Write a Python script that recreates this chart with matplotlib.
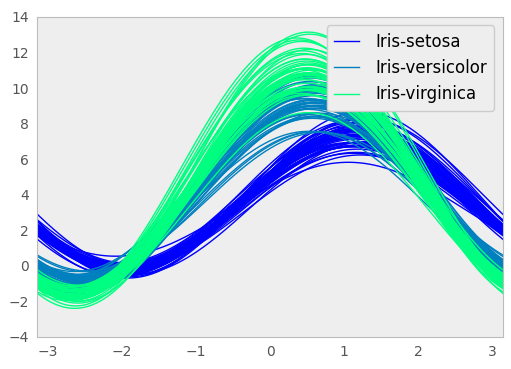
import numpy as np
import matplotlib
matplotlib.use('Agg')
import matplotlib.pyplot as plt

# iris measurements: sepal length, sepal width, petal length, petal width
setosa = [
    [5.1, 3.5, 1.4, 0.2], [4.9, 3.0, 1.4, 0.2], [4.7, 3.2, 1.3, 0.2], [4.6, 3.1, 1.5, 0.2],
    [5.0, 3.6, 1.4, 0.2], [5.4, 3.9, 1.7, 0.4], [4.6, 3.4, 1.4, 0.3], [5.0, 3.4, 1.5, 0.2],
    [4.4, 2.9, 1.4, 0.2], [4.9, 3.1, 1.5, 0.1], [5.4, 3.7, 1.5, 0.2], [4.8, 3.4, 1.6, 0.2],
    [4.8, 3.0, 1.4, 0.1], [4.3, 3.0, 1.1, 0.1], [5.8, 4.0, 1.2, 0.2], [5.7, 4.4, 1.5, 0.4],
    [5.4, 3.9, 1.3, 0.4], [5.1, 3.5, 1.4, 0.3], [5.7, 3.8, 1.7, 0.3], [5.1, 3.8, 1.5, 0.3],
    [5.4, 3.4, 1.7, 0.2], [5.1, 3.7, 1.5, 0.4], [4.6, 3.6, 1.0, 0.2], [5.1, 3.3, 1.7, 0.5],
    [4.8, 3.4, 1.9, 0.2], [5.0, 3.0, 1.6, 0.2], [5.0, 3.4, 1.6, 0.4], [5.2, 3.5, 1.5, 0.2],
    [5.2, 3.4, 1.4, 0.2], [4.7, 3.2, 1.6, 0.2], [4.8, 3.1, 1.6, 0.2], [5.4, 3.4, 1.5, 0.4],
    [5.2, 4.1, 1.5, 0.1], [5.5, 4.2, 1.4, 0.2], [4.9, 3.1, 1.5, 0.1], [5.0, 3.2, 1.2, 0.2],
    [5.5, 3.5, 1.3, 0.2], [4.9, 3.1, 1.5, 0.1], [4.4, 3.0, 1.3, 0.2], [5.1, 3.4, 1.5, 0.2],
    [5.0, 3.5, 1.3, 0.3], [4.5, 2.3, 1.3, 0.3], [4.4, 3.2, 1.3, 0.2], [5.0, 3.5, 1.6, 0.6],
    [5.1, 3.8, 1.9, 0.4], [4.8, 3.0, 1.4, 0.3], [5.1, 3.8, 1.6, 0.2], [4.6, 3.2, 1.4, 0.2],
    [5.3, 3.7, 1.5, 0.2], [5.0, 3.3, 1.4, 0.2],
]
versicolor = [
    [7.0, 3.2, 4.7, 1.4], [6.4, 3.2, 4.5, 1.5], [6.9, 3.1, 4.9, 1.5], [5.5, 2.3, 4.0, 1.3],
    [6.5, 2.8, 4.6, 1.5], [5.7, 2.8, 4.5, 1.3], [6.3, 3.3, 4.7, 1.6], [4.9, 2.4, 3.3, 1.0],
    [6.6, 2.9, 4.6, 1.3], [5.2, 2.7, 3.9, 1.4], [5.0, 2.0, 3.5, 1.0], [5.9, 3.0, 4.2, 1.5],
    [6.0, 2.2, 4.0, 1.0], [6.1, 2.9, 4.7, 1.4], [5.6, 2.9, 3.6, 1.3], [6.7, 3.1, 4.4, 1.4],
    [5.6, 3.0, 4.5, 1.5], [5.8, 2.7, 4.1, 1.0], [6.2, 2.2, 4.5, 1.5], [5.6, 2.5, 3.9, 1.1],
    [5.9, 3.2, 4.8, 1.8], [6.1, 2.8, 4.0, 1.3], [6.3, 2.5, 4.9, 1.5], [6.1, 2.8, 4.7, 1.2],
    [6.4, 2.9, 4.3, 1.3], [6.6, 3.0, 4.4, 1.4], [6.8, 2.8, 4.8, 1.4], [6.7, 3.0, 5.0, 1.7],
    [6.0, 2.9, 4.5, 1.5], [5.7, 2.6, 3.5, 1.0], [5.5, 2.4, 3.8, 1.1], [5.5, 2.4, 3.7, 1.0],
    [5.8, 2.7, 3.9, 1.2], [6.0, 2.7, 5.1, 1.6], [5.4, 3.0, 4.5, 1.5], [6.0, 3.4, 4.5, 1.6],
    [6.7, 3.1, 4.7, 1.5], [6.3, 2.3, 4.4, 1.3], [5.6, 3.0, 4.1, 1.3], [5.5, 2.5, 4.0, 1.3],
    [5.5, 2.6, 4.4, 1.2], [6.1, 3.0, 4.6, 1.4], [5.8, 2.6, 4.0, 1.2], [5.0, 2.3, 3.3, 1.0],
    [5.6, 2.7, 4.2, 1.3], [5.7, 3.0, 4.2, 1.2], [5.7, 2.9, 4.2, 1.3], [6.2, 2.9, 4.3, 1.3],
    [5.1, 2.5, 3.0, 1.1], [5.7, 2.8, 4.1, 1.3],
]
virginica = [
    [6.3, 3.3, 6.0, 2.5], [5.8, 2.7, 5.1, 1.9], [7.1, 3.0, 5.9, 2.1], [6.3, 2.9, 5.6, 1.8],
    [6.5, 3.0, 5.8, 2.2], [7.6, 3.0, 6.6, 2.1], [4.9, 2.5, 4.5, 1.7], [7.3, 2.9, 6.3, 1.8],
    [6.7, 2.5, 5.8, 1.8], [7.2, 3.6, 6.1, 2.5], [6.5, 3.2, 5.1, 2.0], [6.4, 2.7, 5.3, 1.9],
    [6.8, 3.0, 5.5, 2.1], [5.7, 2.5, 5.0, 2.0], [5.8, 2.8, 5.1, 2.4], [6.4, 3.2, 5.3, 2.3],
    [6.5, 3.0, 5.5, 1.8], [7.7, 3.8, 6.7, 2.2], [7.7, 2.6, 6.9, 2.3], [6.0, 2.2, 5.0, 1.5],
    [6.9, 3.2, 5.7, 2.3], [5.6, 2.8, 4.9, 2.0], [7.7, 2.8, 6.7, 2.0], [6.3, 2.7, 4.9, 1.8],
    [6.7, 3.3, 5.7, 2.1], [7.2, 3.2, 6.0, 1.8], [6.2, 2.8, 4.8, 1.8], [6.1, 3.0, 4.9, 1.8],
    [6.4, 2.8, 5.6, 2.1], [7.2, 3.0, 5.8, 1.6], [7.4, 2.8, 6.1, 1.9], [7.9, 3.8, 6.4, 2.0],
    [6.4, 2.8, 5.6, 2.2], [6.3, 2.8, 5.1, 1.5], [6.1, 2.6, 5.6, 1.4], [7.7, 3.0, 6.1, 2.3],
    [6.3, 3.4, 5.6, 2.4], [6.4, 3.1, 5.5, 1.8], [6.0, 3.0, 4.8, 1.8], [6.9, 3.1, 5.4, 2.1],
    [6.7, 3.1, 5.6, 2.4], [6.9, 3.1, 5.1, 2.3], [5.8, 2.7, 5.1, 1.9], [6.8, 3.2, 5.9, 2.3],
    [6.7, 3.3, 5.7, 2.5], [6.7, 3.0, 5.2, 2.3], [6.3, 2.5, 5.0, 1.9], [6.5, 3.0, 5.2, 2.0],
    [6.2, 3.4, 5.4, 2.3], [5.9, 3.0, 5.1, 1.8],
]
species = ['Iris-setosa', 'Iris-versicolor', 'Iris-virginica']


def andrews(amps, t):
    # the old pandas version: pairs (sin, cos) per harmonic, odd leftover as sin
    result = amps[0] / np.sqrt(2.0) * np.ones_like(t)
    harmonic = 1.0
    for x_even, x_odd in zip(amps[1::2], amps[2::2]):
        result += x_even * np.sin(harmonic * t) + x_odd * np.cos(harmonic * t)
        harmonic += 1.0
    if len(amps) % 2 != 0:
        result += amps[-1] * np.sin(harmonic * t)
    return result


plt.rcParams['axes.facecolor'] = '#eeeeee'
plt.rcParams['axes.edgecolor'] = '#bcbcbc'
plt.rcParams['xtick.color'] = '#555555'
plt.rcParams['ytick.color'] = '#555555'

fig = plt.figure(figsize=(5.11, 3.69), dpi=100)
ax = fig.add_axes([0.073, 0.087, 0.911, 0.867])

t = np.linspace(-np.pi, np.pi, 200)
cmap = plt.get_cmap('winter')
for j, (name, rows) in enumerate(zip(species, [setosa, versicolor, virginica])):
    color = cmap(j / (len(species) - 1))
    for k, row in enumerate(rows):
        ax.plot(t, andrews(row, t), color=color, linewidth=1,
                label=name if k == 0 else None)

ax.set_xlim(-np.pi, np.pi)
ax.set_ylim(-4, 14)
ax.grid(False)
ax.tick_params(length=0, labelsize=10, pad=6)
leg = ax.legend(loc='upper right', fontsize=12, facecolor='#eeeeee', edgecolor='#cccccc',
                framealpha=1, handlelength=1.45, handletextpad=1.0, borderpad=0.45)
fig.savefig('out.png', dpi=100)
